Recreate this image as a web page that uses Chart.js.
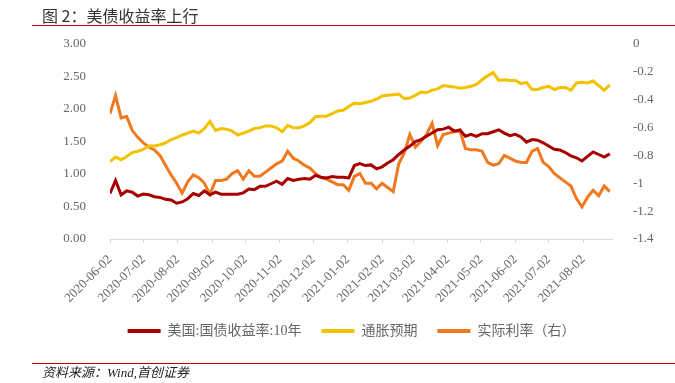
<!DOCTYPE html>
<html>
<head>
  <meta charset="utf-8">
  <title>美债收益率上行</title>
  <script src="https://cdn.jsdelivr.net/npm/chart.js"></script>
  <style>
    body { margin: 0; background: #fff; }
    #wrap { position: relative; width: 675px; height: 383px; overflow: hidden; }
    #chart { position: absolute; left: 0; top: 0; }
    #title { position: absolute; left: 42px; top: 7px; font: 16px/16px 'Noto Sans CJK SC', sans-serif; color: #333; white-space: nowrap; }
    .rule { position: absolute; left: 32px; width: 643px; height: 1px; background: #c00000; }
    #source { position: absolute; left: 42px; top: 366px; font: italic 13px/13px 'Liberation Serif', 'Noto Sans CJK SC', serif; color: #222; white-space: nowrap; }
  </style>
</head>
<body>
  <div id="wrap">
    <canvas id="chart" width="675" height="383"></canvas>
    <div id="title">图 2：美债收益率上行</div>
    <div class="rule" style="top:25px"></div>
    <div class="rule" style="top:363px"></div>
    <div id="source">资料来源：Wind,首创证券</div>
  </div>
  <script>
    // one reading every 5 calendar days, starting at startDate
    const startDate = '2020-06-02';
    const stepDays = 5;
    const lastDay = 452;

    const tickLabels = ['2020-06-02', '2020-07-02', '2020-08-02', '2020-09-02', '2020-10-02',
      '2020-11-02', '2020-12-02', '2021-01-02', '2021-02-02', '2021-03-02', '2021-04-02',
      '2021-05-02', '2021-06-02', '2021-07-02', '2021-08-02'];

    const seriesNames = ['美国:国债收益率:10年', '通胀预期', '实际利率（右）'];

    // 美国:国债收益率:10年 (left axis)
    const yields = [0.70, 0.90, 0.68, 0.74, 0.72, 0.66, 0.69, 0.68, 0.65, 0.64,
      0.61, 0.60, 0.55, 0.57, 0.62, 0.70, 0.67, 0.74, 0.68, 0.72,
      0.69, 0.69, 0.69, 0.69, 0.71, 0.77, 0.76, 0.81, 0.81, 0.85,
      0.89, 0.84, 0.93, 0.90, 0.92, 0.93, 0.92, 0.98, 0.95, 0.94,
      0.96, 0.95, 0.95, 0.94, 1.13, 1.16, 1.13, 1.14, 1.08, 1.11,
      1.17, 1.22, 1.30, 1.37, 1.43, 1.50, 1.53, 1.58, 1.63, 1.68,
      1.69, 1.72, 1.66, 1.68, 1.58, 1.61, 1.58, 1.62, 1.62, 1.65,
      1.68, 1.63, 1.59, 1.61, 1.57, 1.49, 1.53, 1.52, 1.48, 1.43,
      1.38, 1.37, 1.33, 1.28, 1.25, 1.20, 1.27, 1.34, 1.30, 1.26, 1.31];

    // 通胀预期 (left axis)
    const inflation = [1.19, 1.26, 1.22, 1.27, 1.33, 1.35, 1.38, 1.43, 1.43, 1.45,
      1.48, 1.53, 1.56, 1.60, 1.63, 1.66, 1.63, 1.70, 1.81, 1.67,
      1.70, 1.69, 1.66, 1.60, 1.63, 1.66, 1.70, 1.71, 1.74, 1.74,
      1.71, 1.65, 1.75, 1.71, 1.71, 1.74, 1.79, 1.88, 1.89, 1.89,
      1.93, 1.97, 1.98, 2.04, 2.09, 2.08, 2.10, 2.12, 2.15, 2.20,
      2.21, 2.22, 2.23, 2.16, 2.17, 2.21, 2.26, 2.25, 2.29, 2.31,
      2.36, 2.35, 2.34, 2.32, 2.33, 2.35, 2.38, 2.45, 2.51, 2.56,
      2.44, 2.45, 2.44, 2.44, 2.39, 2.41, 2.30, 2.30, 2.33, 2.35,
      2.30, 2.33, 2.33, 2.29, 2.40, 2.41, 2.40, 2.43, 2.36, 2.29, 2.37];

    // 实际利率 (right axis)
    const realRate = [-0.50, -0.37, -0.53, -0.52, -0.62, -0.67, -0.71, -0.74, -0.76, -0.80,
      -0.87, -0.94, -1.00, -1.07, -0.99, -0.94, -0.96, -1.00, -1.08, -0.98,
      -0.98, -0.97, -0.93, -0.91, -0.97, -0.91, -0.95, -0.95, -0.92, -0.89,
      -0.86, -0.84, -0.77, -0.82, -0.84, -0.87, -0.89, -0.93, -0.96, -0.97,
      -0.99, -1.01, -1.01, -1.05, -0.95, -0.93, -1.00, -1.00, -1.04, -1.00,
      -1.03, -1.06, -0.86, -0.78, -0.65, -0.74, -0.70, -0.65, -0.57, -0.73,
      -0.65, -0.64, -0.63, -0.62, -0.75, -0.76, -0.76, -0.77, -0.85, -0.87,
      -0.86, -0.80, -0.82, -0.84, -0.85, -0.85, -0.77, -0.75, -0.85, -0.88,
      -0.93, -0.96, -0.99, -1.02, -1.11, -1.17, -1.10, -1.05, -1.09, -1.02, -1.06];

    const colors = ['#a80000', '#f2c200', '#f0781e'];

    function dayOffset(s) {
      return Math.round((Date.parse(s) - Date.parse(startDate)) / 86400000);
    }
    const tickDays = tickLabels.map(dayOffset);
    const toPoints = arr => arr.map((v, i) => ({ x: i * stepDays, y: v }));

    const tickFont = { family: "'Liberation Serif', serif", size: 13 };
    const grey = '#666';

    new Chart(document.getElementById('chart'), {
      type: 'line',
      data: {
        datasets: [
          { label: seriesNames[0], data: toPoints(yields), yAxisID: 'y' },
          { label: seriesNames[1], data: toPoints(inflation), yAxisID: 'y' },
          { label: seriesNames[2], data: toPoints(realRate), yAxisID: 'y1' }
        ].map((d, i) => Object.assign(d, {
          borderColor: colors[i], backgroundColor: colors[i],
          borderWidth: 3, pointRadius: 0, tension: 0
        }))
      },
      options: {
        responsive: false,
        animation: false,
        layout: { padding: { left: 28, right: 0, top: 44, bottom: 35 } },
        plugins: {
          tooltip: { enabled: false },
          legend: {
            position: 'bottom',
            labels: {
              boxWidth: 33, boxHeight: 4, padding: 20, color: grey,
              font: { family: "'Liberation Serif', 'Noto Sans CJK SC', serif", size: 14 },
              generateLabels: chart => Chart.defaults.plugins.legend.labels.generateLabels(chart)
                .map(item => Object.assign(item, { lineWidth: 0 }))
            }
          }
        },
        scales: {
          x: {
            type: 'linear', min: 0, max: lastDay,
            afterBuildTicks: scale => { scale.ticks = tickDays.map(v => ({ value: v })); },
            afterFit: scale => { scale.height = 65; },
            ticks: {
              autoSkip: false, minRotation: 45, maxRotation: 45, padding: 9,
              color: grey, font: tickFont,
              callback: (v, i) => tickLabels[i]
            },
            grid: { drawOnChartArea: false, tickLength: 4, color: '#d9d9d9' },
            border: { color: '#d9d9d9' }
          },
          y: {
            position: 'left', min: 0, max: 3,
            afterFit: scale => { scale.width = 82; },
            ticks: { stepSize: 0.5, padding: 16, color: grey, font: tickFont, callback: v => v.toFixed(2) },
            grid: { display: false },
            border: { display: false }
          },
          y1: {
            position: 'right', min: -1.4, max: 0,
            afterFit: scale => { scale.width = 63; },
            ticks: { stepSize: 0.2, padding: 13, color: grey, font: tickFont, callback: v => String(Number(v.toFixed(1))) },
            grid: { display: false },
            border: { display: false }
          }
        }
      }
    });
  </script>
</body>
</html>
